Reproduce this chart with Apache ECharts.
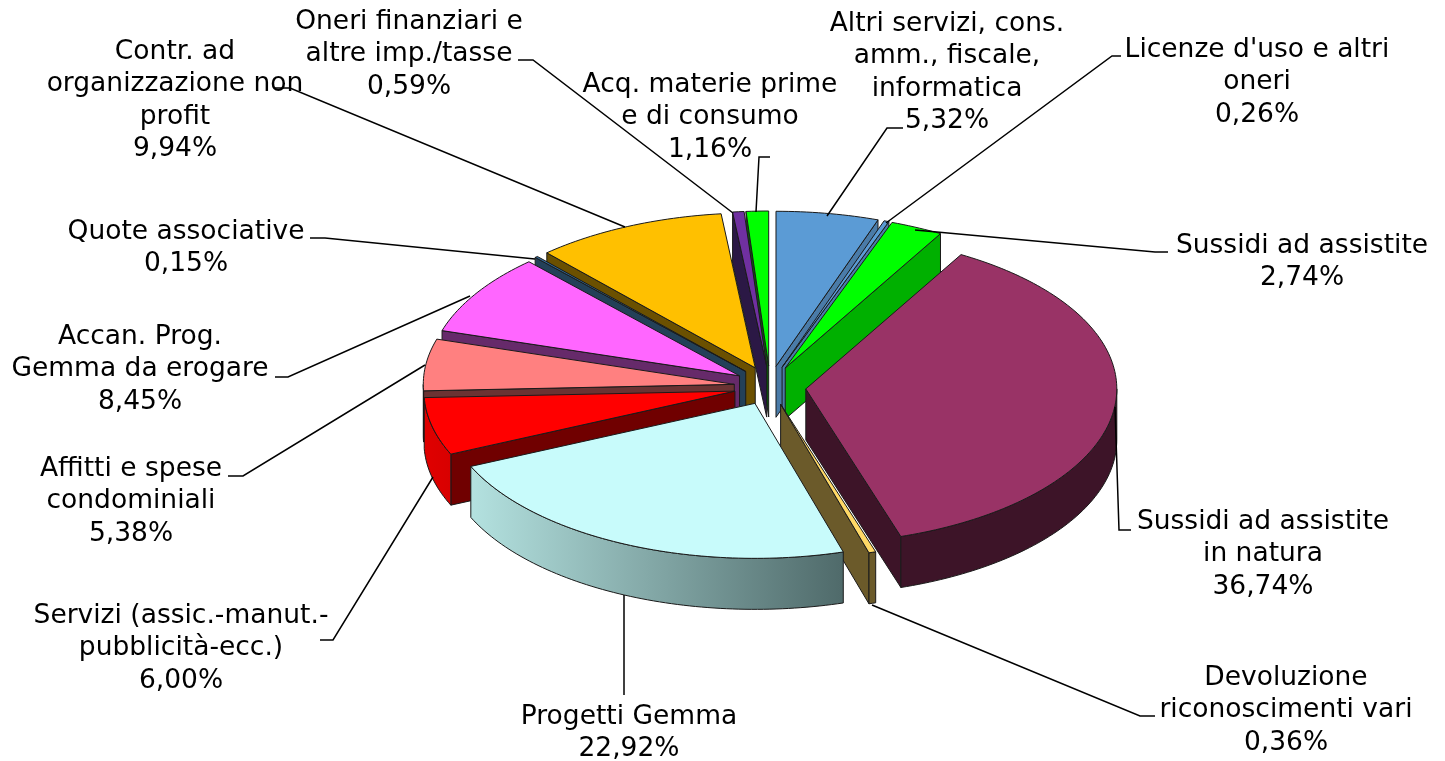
<!DOCTYPE html>
<html>
<head>
<meta charset="utf-8">
<title>Ripartizione costi</title>
<script src="https://cdn.jsdelivr.net/npm/echarts@6/dist/echarts.min.js"></script>
<style>
  html,body{margin:0;padding:0;background:#fff;}
  #main{width:1445px;height:761px;}
</style>
</head>
<body>
<div id="main"></div>
<script>
// voci in ordine orario, partendo da ore 12
const categories = [
  "Altri servizi, cons.\namm., fiscale,\ninformatica",
  "Licenze d'uso e altri\noneri",
  "Sussidi ad assistite",
  "Sussidi ad assistite\nin natura",
  "Devoluzione\nriconoscimenti vari",
  "Progetti Gemma",
  "Servizi (assic.-manut.-\npubblicità-ecc.)",
  "Affitti e spese\ncondominiali",
  "Accan. Prog.\nGemma da erogare",
  "Quote associative",
  "Contr. ad\norganizzazione non\nprofit",
  "Oneri finanziari e\naltre imp./tasse",
  "Acq. materie prime\ne di consumo"
];
const shares = [5.32, 0.26, 2.74, 36.74, 0.36, 22.92, 6.00, 5.38, 8.45, 0.15, 9.94, 0.59, 1.16];

const topColors  = ['#5b9bd5','#5b9bd5','#00ff00','#993366','#ffd966','#c8fbfb','#ff0000','#ff8080','#ff66ff','#2e6a9c','#ffc000','#7030a0','#00ff00'];
const wallColors = ['#4a7ba8','#4a7ba8','#00b000','#3d1428','#6b5a2a','#c8fbfb','#700000','#6b3333','#662a6a','#234058','#6b5000','#2b1845','#0a5a0a'];
// fianco esterno: sinistra -> destra
const rimColors  = [null,null,null,['#3d1428','#3d1428'],['#6b5a2a','#6b5a2a'],['#b4e2e0','#4f6a6a'],['#e00000','#d80000'],['#d86a6a','#d86a6a'],null,null,null,null,null];

// ordine di disegno, dal fondo verso chi guarda
const drawOrder = [0,12,11,1,10,2,9,8,3,7,6,4,5];

// posizione etichette: centro x, y prima riga, poi la spezzata di richiamo
const labelLayout = [
  {x:947, y:8,   line:[[903,128],[887,128],[827,216]]},
  {x:1257,y:34,  line:[[1121,56],[1112,56],[886,223]]},
  {x:1302,y:230, line:[[1168,252],[1155,252],[915,230]]},
  {x:1263,y:506, line:[[1131,530],[1119,530],[1115,407]]},
  {x:1286,y:662, line:[[1155,716],[1140,716],[872,605]]},
  {x:629, y:701, line:[[624,695],[624,595]]},
  {x:181, y:600, line:[[320,640],[333,640],[433,477]]},
  {x:131, y:453, line:[[228,476],[243,476],[425,365]]},
  {x:140, y:321, line:[[275,377],[288,377],[470,296]]},
  {x:186, y:216, line:[[310,238],[325,238],[535,259]]},
  {x:175, y:36,  line:[[275,88],[290,88],[625,227]]},
  {x:409, y:6,   line:[[518,60],[533,60],[733,213]]},
  {x:710, y:69,  line:[[770,157],[759,157],[756,212]]}
];

const cx = 770, cy = 387, rx = 311, ry = 155, depth = 51;
const explodeX = 36, explodeBack = 21, explodeFront = 18;
const fontFamily = '"DejaVu Sans", Verdana, sans-serif';

let total = shares.reduce((a,b)=>a+b,0);
let startAngles = [], run = 0;
shares.forEach(v=>{ startAngles.push(run/total*Math.PI*2); run += v; });

function onEllipse(ox,oy,a,dy){
  return [ox+rx*Math.sin(a), oy-ry*Math.cos(a)+(dy||0)];
}
function arcPoints(ox,oy,a0,a1,dy){
  let pts = [], n = Math.max(2,Math.ceil((a1-a0)/0.02));
  for(let i=0;i<=n;i++){ pts.push(onEllipse(ox,oy,a0+(a1-a0)*i/n,dy)); }
  return pts;
}

function renderSlice(params,api){
  let i = api.value(0);
  let a0 = startAngles[i], a1 = a0+shares[i]/total*Math.PI*2, mid = (a0+a1)/2;
  let explodeY = Math.cos(mid)>0 ? explodeBack : explodeFront;
  let ox = cx+explodeX*Math.sin(mid), oy = cy-explodeY*Math.cos(mid);
  let stroke = {stroke:'#1a1a1a',lineWidth:1,lineJoin:'round'};
  let children = [];
  let poly = (points,fill)=>children.push({type:'polygon',shape:{points},style:Object.assign({fill},stroke)});

  // pareti radiali: a sinistra si vede quella iniziale, a destra quella finale
  if(a0>=Math.PI){
    let s0 = onEllipse(ox,oy,a0);
    poly([[ox,oy],s0,[s0[0],s0[1]+depth],[ox,oy+depth]],wallColors[i]);
  }
  if(a1<=Math.PI){
    let s1 = onEllipse(ox,oy,a1);
    poly([[ox,oy],s1,[s1[0],s1[1]+depth],[ox,oy+depth]],wallColors[i]);
  }

  // fianco esterno, solo la parte rivolta verso chi guarda
  let r0 = Math.max(a0,Math.PI/2), r1 = Math.min(a1,Math.PI*1.5);
  if(r1>r0){
    let c = rimColors[i] || [wallColors[i],wallColors[i]];
    let upper = arcPoints(ox,oy,r0,r1,0), lower = arcPoints(ox,oy,r0,r1,depth).reverse();
    poly(upper.concat(lower), new echarts.graphic.LinearGradient(0,0,1,0,[{offset:0,color:c[0]},{offset:1,color:c[1]}]));
  }
  poly([[ox,oy]].concat(arcPoints(ox,oy,a0,a1,0)),topColors[i]);
  return {type:'group',children};
}

function renderLabel(params,api){
  let i = api.value(0), l = labelLayout[i];
  let pct = shares[i].toFixed(2).replace('.',',')+'%';
  return {type:'group',children:[
    {type:'polyline',shape:{points:l.line},style:{fill:null,stroke:'#000',lineWidth:1.5}},
    {type:'text',style:{x:l.x,y:l.y,text:categories[i]+'\n'+pct,fill:'#000',align:'center',verticalAlign:'top',
      fontSize:26.5,lineHeight:32.3,fontFamily}}
  ]};
}

let myChart = echarts.init(document.getElementById('main'),null,{renderer:'canvas'});
myChart.setOption({
  animation:false,
  backgroundColor:'#fff',
  xAxis:{show:false},yAxis:{show:false},
  series:[
    {type:'custom',name:'fette',coordinateSystem:'none',silent:true,data:drawOrder.map(i=>[i]),renderItem:renderSlice,z:2},
    {type:'custom',name:'etichette',coordinateSystem:'none',silent:true,data:categories.map((c,i)=>[i]),renderItem:renderLabel,z:3}
  ]
});
</script>
</body>
</html>
